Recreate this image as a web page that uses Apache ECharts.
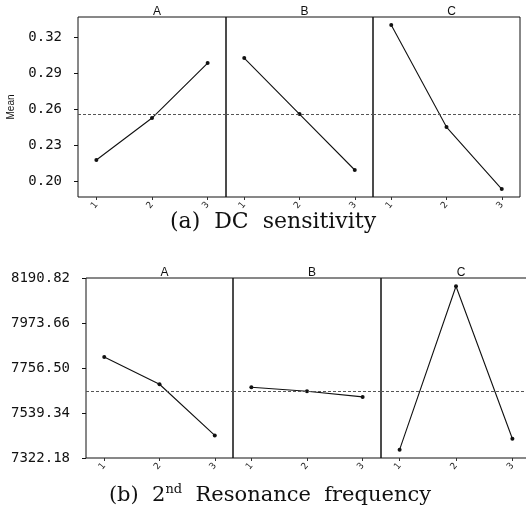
<!DOCTYPE html>
<html>
<head>
<meta charset="UTF-8">
<title>Main effects</title>
<script type="text/javascript" src="https://cdn.jsdelivr.net/npm/echarts@6/dist/echarts.min.js"></script>
</head>
<body style="margin:0;background:#fff;">
<div id="mychar" style="width:526px;height:518px;"></div>

<script type="text/javascript">

// factor levels and panel names
var levels = [1, 2, 3];
var factors = ['A', 'B', 'C'];

// (a) DC sensitivity, mean per level
var dcA = [0.2175, 0.2525, 0.2983];
var dcB = [0.3025, 0.2558, 0.2092];
var dcC = [0.3300, 0.2450, 0.1933];
var dcMean = 0.2558;
var dcTicks = [0.20, 0.23, 0.26, 0.29, 0.32];

// (b) 2nd resonance frequency, mean per level
var frA = [7809.4, 7678.0, 7431.2];
var frB = [7663.6, 7644.3, 7617.1];
var frC = [7362.3, 8150.8, 7415.1];
var frMean = 7642.7;
var frTicks = [7322.18, 7539.34, 7756.50, 7973.66, 8190.82];

function pts(vals) {
  return levels.map(function (l, i) { return [l, vals[i]]; });
}

var rows = [
  { top: 17, lefts: [78, 226, 373], widths: [148, 147, 147], data: [dcA, dcB, dcC],
    mean: dcMean, ticks: dcTicks, min: 0.1867, max: 0.3367, name: 'Mean' },
  { top: 278, lefts: [86, 233, 381], widths: [147, 148, 150], data: [frA, frB, frC],
    mean: frMean, ticks: frTicks, min: 7322.18, max: 8190.82, name: '' }
];

var grids = [], xAxes = [], yAxes = [], series = [], titles = [];

rows.forEach(function (row, r) {
  for (var k = 0; k < 3; k++) {
    var gi = grids.length;
    grids.push({
      left: row.lefts[k], top: row.top, width: row.widths[k], height: 180,
      outerBoundsMode: 'none',
      show: true, borderColor: '#111', borderWidth: 1, backgroundColor: 'transparent'
    });
    xAxes.push({
      type: 'value', gridIndex: gi, min: 0.67, max: 3.33,
      splitLine: { show: false },
      axisLine: { show: false },
      axisTick: { show: true, customValues: levels, length: 3, lineStyle: { color: '#333' } },
      axisLabel: { customValues: levels, rotate: 50, fontSize: 9, margin: 6, color: '#222',
                   fontFamily: 'DejaVu Sans' }
    });
    var first = k === 0;
    yAxes.push({
      type: 'value', gridIndex: gi, min: row.min, max: row.max,
      name: first ? row.name : '', nameLocation: 'middle', nameGap: 62, nameRotate: 90,
      nameTextStyle: { fontSize: 10, color: '#111', fontFamily: 'Liberation Sans' },
      splitLine: { show: false },
      axisLine: { show: false },
      axisTick: { show: first, customValues: row.ticks, length: 4, lineStyle: { color: '#111' } },
      axisLabel: {
        show: first, customValues: row.ticks, margin: 16, fontSize: 14,
        color: '#111', fontFamily: 'DejaVu Sans Mono',
        formatter: function (v) { return v.toFixed(2); }
      }
    });
    series.push({
      type: 'line', xAxisIndex: gi, yAxisIndex: gi,
      data: pts(row.data[k]),
      symbol: 'circle', symbolSize: 4,
      lineStyle: { color: '#111', width: 1.1 },
      itemStyle: { color: '#111' },
      silent: true, animation: false,
      markLine: {
        silent: true, symbol: 'none', label: { show: false }, precision: 4,
        lineStyle: { color: '#555', type: [3, 2], width: 1 },
        data: [{ yAxis: row.mean }]
      }
    });
    titles.push({
      text: factors[k], left: row.lefts[k] + row.widths[k] / 2, top: row.top - 16,
      textAlign: 'center',
      textStyle: { fontSize: 12, fontWeight: 'normal', color: '#111', fontFamily: 'Liberation Sans' }
    });
  }
});

titles.push({
  text: '(a)  DC  sensitivity', left: 268, top: 206, textAlign: 'center',
  textStyle: { fontSize: 22, fontWeight: 'normal', color: '#111', fontFamily: 'DejaVu Serif' }
});
titles.push({
  text: '{n|(b)  2}{s|nd}{n|  Resonance  frequency}', left: 265, top: 478, textAlign: 'center',
  textStyle: {
    fontWeight: 'normal',
    rich: {
      n: { fontSize: 21, fontWeight: 'normal', color: '#111', fontFamily: 'DejaVu Serif', lineHeight: 26 },
      s: { fontSize: 13, fontWeight: 'normal', color: '#111', fontFamily: 'DejaVu Serif',
           verticalAlign: 'top', lineHeight: 26, padding: [0, 0, 10, 0] }
    }
  }
});

var mychart = echarts.init(document.getElementById('mychar'));
mychart.setOption({
  animation: false,
  backgroundColor: '#fff',
  title: titles,
  grid: grids,
  xAxis: xAxes,
  yAxis: yAxes,
  series: series
});
</script>
</body>
</html>
